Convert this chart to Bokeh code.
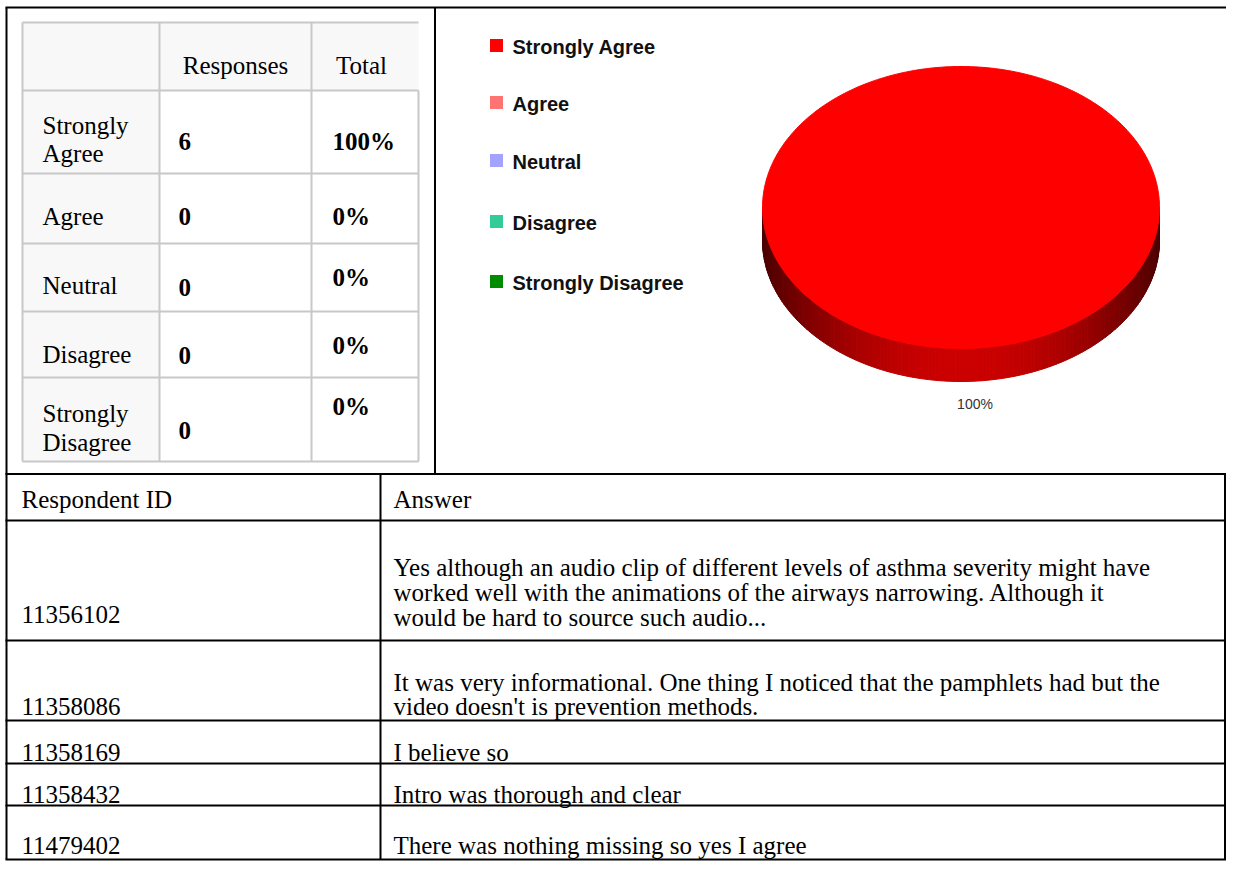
import numpy as np
from bokeh.plotting import figure
from bokeh.models import Range1d
from bokeh.core.properties import value
from bokeh.embed import file_html
from bokeh.resources import INLINE

# ---------------- data ----------------
categories = ["Strongly Agree", "Agree", "Neutral", "Disagree", "Strongly Disagree"]
responses = [6, 0, 0, 0, 0]
total_labels = ["100%", "0%", "0%", "0%", "0%"]
slice_colors = ["#ff0000", "#ff7373", "#a3a3ff", "#33cc99", "#008c00"]
table_header = ["Responses", "Total"]

answer_header = ["Respondent ID", "Answer"]
respondent_ids = ["11356102", "11358086", "11358169", "11358432", "11479402"]
answers = [
    ["Yes although an audio clip of different levels of asthma severity might have",
     "worked well with the animations of the airways narrowing. Although it",
     "would be hard to source such audio..."],
    ["It was very informational. One thing I noticed that the pamphlets had but the",
     "video doesn't is prevention methods."],
    ["I believe so"],
    ["Intro was thorough and clear"],
    ["There was nothing missing so yes I agree"],
]

# ---------------- layout / style ----------------
W, H = 1226, 861
SERIF = value("Liberation Serif")
SANS = value("Liberation Sans")
FS = "25px"

p = figure(width=W, height=H, x_range=Range1d(0, W), y_range=Range1d(H, 0),
           output_backend="svg", toolbar_location=None, min_border=0,
           x_axis_type=None, y_axis_type=None, outline_line_color=None,
           background_fill_color="white", border_fill_color="white")

# ---- upper-left response table ----
col_x = [22, 159, 311, 418]
row_y = [22, 90, 173, 243, 311, 377, 461]
grey = "#c8c8c8"
p.quad(left=[col_x[0], col_x[0]], right=[col_x[3], col_x[1]],
       top=[row_y[0], row_y[1]], bottom=[row_y[1], row_y[-1]],
       fill_color="#f8f8f8", line_color=None)
p.segment(x0=[col_x[0]] * len(row_y), x1=[col_x[3]] * len(row_y), y0=row_y, y1=row_y,
          line_color=grey, line_width=2)
p.segment(x0=col_x, x1=col_x, y0=[row_y[0], row_y[0], row_y[0], row_y[1]],
          y1=[row_y[-1]] * 4, line_color=grey, line_width=2)

p.text(x=[235, 361], y=[65, 65], text=table_header, text_font=SERIF, text_font_size=FS,
       text_align="center", text_baseline="alphabetic", text_color="black")

label_baselines = [[125, 153], [216], [285], [354], [413, 442]]
resp_baselines = [141, 216, 287, 355, 430]
tot_baselines = [141, 216, 277, 345, 406]
lx, ly, lt = [], [], []
for cat, bl in zip(categories, label_baselines):
    words = cat.split(" ")
    for w_, b in zip(words if len(bl) > 1 else [cat], bl):
        lx.append(42); ly.append(b); lt.append(w_)
p.text(x=lx, y=ly, text=lt, text_font=SERIF, text_font_size=FS,
       text_baseline="alphabetic", text_color="black")
p.text(x=[178] * len(responses), y=resp_baselines, text=[str(r) for r in responses],
       text_font=SERIF, text_font_size=FS, text_font_style="bold",
       text_baseline="alphabetic", text_color="black")
p.text(x=[332] * len(total_labels), y=tot_baselines, text=total_labels,
       text_font=SERIF, text_font_size=FS, text_font_style="bold",
       text_baseline="alphabetic", text_color="black")

# ---- legend ----
leg_y = [45, 102, 160, 221, 281]
p.scatter(x=[496] * len(categories), y=leg_y, marker="square", size=13,
          fill_color=slice_colors, line_color=None)
p.text(x=[512] * len(categories), y=[v + 1 for v in leg_y], text=categories,
       text_font=SANS, text_font_size="20px", text_font_style="bold",
       text_baseline="middle", text_color="#111111")

# ---- 3D pie ----
cx, cy, rx, ry, depth = 960.5, 207, 198.5, 141, 33
vals = np.array(responses, dtype=float)
shares = vals / vals.sum()
t0 = -np.pi / 2
cum = t0 + 2 * np.pi * np.concatenate([[0], np.cumsum(shares)])

side_xs, side_ys, side_cols = [], [], []
top_xs, top_ys, top_cols = [], [], []
for i, sh in enumerate(shares):
    if sh <= 0:
        continue
    a0, a1 = cum[i], cum[i + 1]
    base = np.array([int(slice_colors[i][k:k + 2], 16) for k in (1, 3, 5)], dtype=float)
    for k in range(-1, 2):
        lo, hi = max(a0, 2 * np.pi * k), min(a1, 2 * np.pi * k + np.pi)
        if hi <= lo:
            continue
        ts = np.linspace(lo, hi, int(160 * (hi - lo) / np.pi) + 2)
        for ta, tb in zip(ts[:-1], ts[1:]):
            tm = 0.5 * (ta + tb)
            f = 0.30 + 0.50 * np.sin(tm) ** 2
            c = "#%02x%02x%02x" % tuple(int(v * f) for v in base)
            xa, xb = cx + rx * np.cos(ta), cx + rx * np.cos(tb)
            ya, yb = cy + ry * np.sin(ta), cy + ry * np.sin(tb)
            side_xs.append([xa, xb, xb, xa]); side_ys.append([ya, yb, yb + depth, ya + depth])
            side_cols.append(c)
    ts = np.linspace(a0, a1, int(360 * sh) + 2)
    xs = list(cx + rx * np.cos(ts)); ys = list(cy + ry * np.sin(ts))
    if sh < 1:
        xs = [cx] + xs; ys = [cy] + ys
    top_xs.append(xs); top_ys.append(ys); top_cols.append(slice_colors[i])

p.patches(xs=side_xs, ys=side_ys, fill_color=side_cols, line_color=side_cols, line_width=1)
p.patches(xs=top_xs, ys=top_ys, fill_color=top_cols, line_color=top_cols, line_width=1)

px_, py_, pt_ = [], [], []
for i, sh in enumerate(shares):
    if sh <= 0:
        continue
    mid = 0.5 * (cum[i] + cum[i + 1])
    px_.append(cx + 14 + (rx + 20) * np.cos(mid))
    py_.append(cy + (ry + 22) * np.sin(mid) + depth)
    pt_.append("%d%%" % round(sh * 100))
p.text(x=px_, y=py_, text=pt_, text_font=SANS, text_font_size="14px",
       text_align="center", text_baseline="middle", text_color="#333333")

# ---- outer black frame lines ----
blk = "black"
BOTTOM = 859
p.segment(x0=[5, 6, 434.5, 5], x1=[1226, 6, 434.5, 1226],
          y0=[7, 7, 7, 473.5], y1=[7, BOTTOM, 473.5, 473.5],
          line_color=blk, line_width=2)

# ---- lower answers table ----
lt_y = [520, 640, 720, 763, 805, BOTTOM]
p.segment(x0=[5] * len(lt_y), x1=[1226] * len(lt_y), y0=lt_y, y1=lt_y,
          line_color=blk, line_width=2)
p.segment(x0=[380, 1224.5], x1=[380, 1224.5], y0=[473.5, 473.5], y1=[BOTTOM, BOTTOM],
          line_color=blk, line_width=2)

p.text(x=[21, 393], y=[499, 499], text=answer_header, text_font=SERIF, text_font_size=FS,
       text_baseline="alphabetic", text_color="black")
id_baselines = [614, 706, 752, 794, 845]
ans_baselines = [[567, 592, 617], [682, 706], [752], [794], [845]]
p.text(x=[21] * len(respondent_ids), y=id_baselines, text=respondent_ids,
       text_font=SERIF, text_font_size=FS, text_baseline="alphabetic", text_color="black")
ax, ay, at = [], [], []
for lines, bls in zip(answers, ans_baselines):
    for ln, b in zip(lines, bls):
        ax.append(393); ay.append(b); at.append(ln)
p.text(x=ax, y=ay, text=at, text_font=SERIF, text_font_size=FS,
       text_baseline="alphabetic", text_color="black")

open("out.html", "w").write(file_html(p, INLINE))
